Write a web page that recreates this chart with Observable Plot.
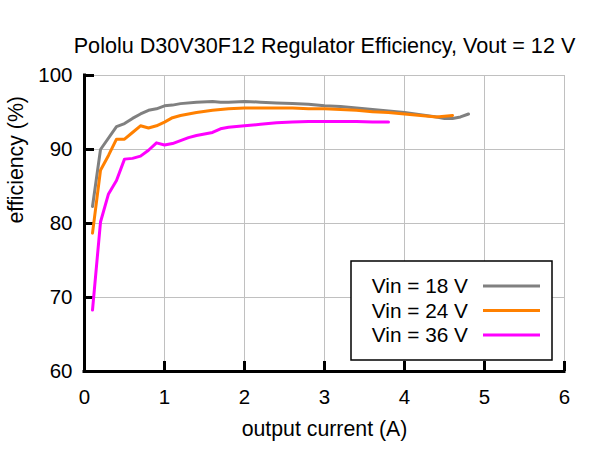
<!DOCTYPE html>
<html>
<head>
<meta charset="utf-8">
<script src="https://cdn.jsdelivr.net/npm/d3@7"></script>
<script src="https://cdn.jsdelivr.net/npm/@observablehq/plot@0.6"></script>
<style>
  html, body { margin: 0; padding: 0; background: #fff; }
  #chart { position: relative; width: 600px; height: 450px; }
</style>
</head>
<body>
<div id="chart"></div>
<script>
const title = "Pololu D30V30F12 Regulator Efficiency, Vout = 12 V";
const xLabel = "output current (A)";
const yLabel = "efficiency (%)";
const xTicks = [0, 1, 2, 3, 4, 5, 6];
const yTicks = [60, 70, 80, 90, 100];

const seriesNames = ["Vin = 18 V", "Vin = 24 V", "Vin = 36 V"];
const seriesColors = ["#808080", "#ff8000", "#ff00ff"];

const x18 = [0.1, 0.2, 0.4, 0.5, 0.6, 0.7, 0.8, 0.9, 1.0, 1.1, 1.2, 1.4, 1.6, 1.7, 1.8, 2.0, 2.2, 2.4, 2.6, 2.8, 3.0, 3.2, 3.4, 3.6, 3.8, 4.0, 4.2, 4.4, 4.5, 4.6, 4.7, 4.8];
const y18 = [82.3, 90.0, 93.1, 93.5, 94.2, 94.8, 95.3, 95.5, 95.9, 96.0, 96.2, 96.4, 96.5, 96.4, 96.4, 96.5, 96.4, 96.3, 96.2, 96.1, 95.9, 95.8, 95.6, 95.4, 95.2, 95.0, 94.7, 94.4, 94.2, 94.2, 94.4, 94.8];

const x24 = [0.1, 0.2, 0.3, 0.4, 0.5, 0.6, 0.7, 0.8, 0.9, 1.0, 1.1, 1.2, 1.4, 1.6, 1.8, 2.0, 2.2, 2.4, 2.6, 2.8, 3.0, 3.2, 3.4, 3.6, 3.8, 4.0, 4.2, 4.4, 4.6];
const y24 = [78.7, 87.2, 89.2, 91.4, 91.4, 92.3, 93.2, 92.9, 93.2, 93.7, 94.3, 94.6, 95.0, 95.3, 95.5, 95.6, 95.6, 95.6, 95.6, 95.5, 95.5, 95.4, 95.3, 95.1, 95.0, 94.8, 94.6, 94.4, 94.6];

const x36 = [0.1, 0.2, 0.3, 0.4, 0.5, 0.6, 0.7, 0.8, 0.9, 1.0, 1.1, 1.2, 1.3, 1.4, 1.6, 1.7, 1.8, 2.0, 2.2, 2.4, 2.6, 2.8, 3.0, 3.2, 3.4, 3.6, 3.8];
const y36 = [68.3, 80.2, 84.0, 85.8, 88.7, 88.8, 89.1, 89.9, 90.9, 90.6, 90.8, 91.2, 91.6, 91.9, 92.3, 92.8, 93.0, 93.2, 93.4, 93.6, 93.7, 93.8, 93.8, 93.8, 93.8, 93.7, 93.7];

const xs = [x18, x24, x36];
const ys = [y18, y24, y36];
const data = [];
seriesNames.forEach((name, i) => {
  xs[i].forEach((x, j) => data.push({series: name, x, y: ys[i][j]}));
});

const font = "'Liberation Sans', Arial, sans-serif";
const mL = 84, mR = 36, mT = 75, mB = 79;
const W = 600, H = 450;
const innerW = W - mL - mR, innerH = H - mT - mB;
const tickLen = 10;

const plot = Plot.plot({
  width: W,
  height: H,
  marginLeft: mL,
  marginRight: mR,
  marginTop: mT,
  marginBottom: mB,
  style: {fontFamily: font, fontSize: "20px", color: "#000", background: "#fff"},
  x: {domain: [0, 6]},
  y: {domain: [60, 100]},
  color: {domain: seriesNames, range: seriesColors},
  marks: [
    Plot.gridX(xTicks, {stroke: "#c0c0c0", strokeOpacity: 1, strokeWidth: 1}),
    Plot.gridY(yTicks, {stroke: "#c0c0c0", strokeOpacity: 1, strokeWidth: 1}),
    Plot.frame({stroke: "#c0c0c0", strokeWidth: 1}),
    Plot.axisX(xTicks, {tickSize: 0, tickPadding: 18, fontSize: 20.5, label: null}),
    Plot.axisY(yTicks, {tickSize: 0, tickPadding: 12, fontSize: 20.5, label: null}),
    Plot.tickX(xTicks, {x: d => d, insetTop: innerH - tickLen, stroke: "#000", strokeWidth: 3}),
    Plot.tickY(yTicks, {y: d => d, insetRight: innerW - tickLen, stroke: "#000", strokeWidth: 3}),
    Plot.line(data, {x: "x", y: "y", z: "series", stroke: "series", strokeWidth: 3, strokeLinejoin: "round", curve: "linear"}),
    Plot.ruleX([0], {stroke: "#000", strokeWidth: 3, strokeLinecap: "square"}),
    Plot.ruleY([60], {stroke: "#000", strokeWidth: 3, strokeLinecap: "square"}),
    Plot.text([title], {frameAnchor: "top", dy: -38, fontSize: 21.6}),
    Plot.text([xLabel], {frameAnchor: "bottom", dy: 64, fontSize: 21.3}),
    Plot.text([yLabel], {frameAnchor: "left", dx: -68, rotate: -90, fontSize: 21.3})
  ]
});

document.getElementById("chart").appendChild(plot);

// Legend box drawn into the same SVG
const svg = d3.select(plot);
const lg = svg.append("g").attr("font-family", font).attr("font-size", 20.8);
const box = {x: 351, y: 261, w: 201, h: 99};
lg.append("rect")
  .attr("x", box.x).attr("y", box.y).attr("width", box.w).attr("height", box.h)
  .attr("fill", "#fff").attr("stroke", "#000").attr("stroke-width", 1.5);
seriesNames.forEach((name, i) => {
  const cy = box.y + 25 + i * 24.5;
  lg.append("text")
    .attr("x", 468).attr("y", cy).attr("dy", "0.35em")
    .attr("text-anchor", "end").attr("fill", "#000").text(name);
  lg.append("line")
    .attr("x1", 483).attr("x2", 540).attr("y1", cy).attr("y2", cy)
    .attr("stroke", seriesColors[i]).attr("stroke-width", 3);
});
</script>
</body>
</html>
